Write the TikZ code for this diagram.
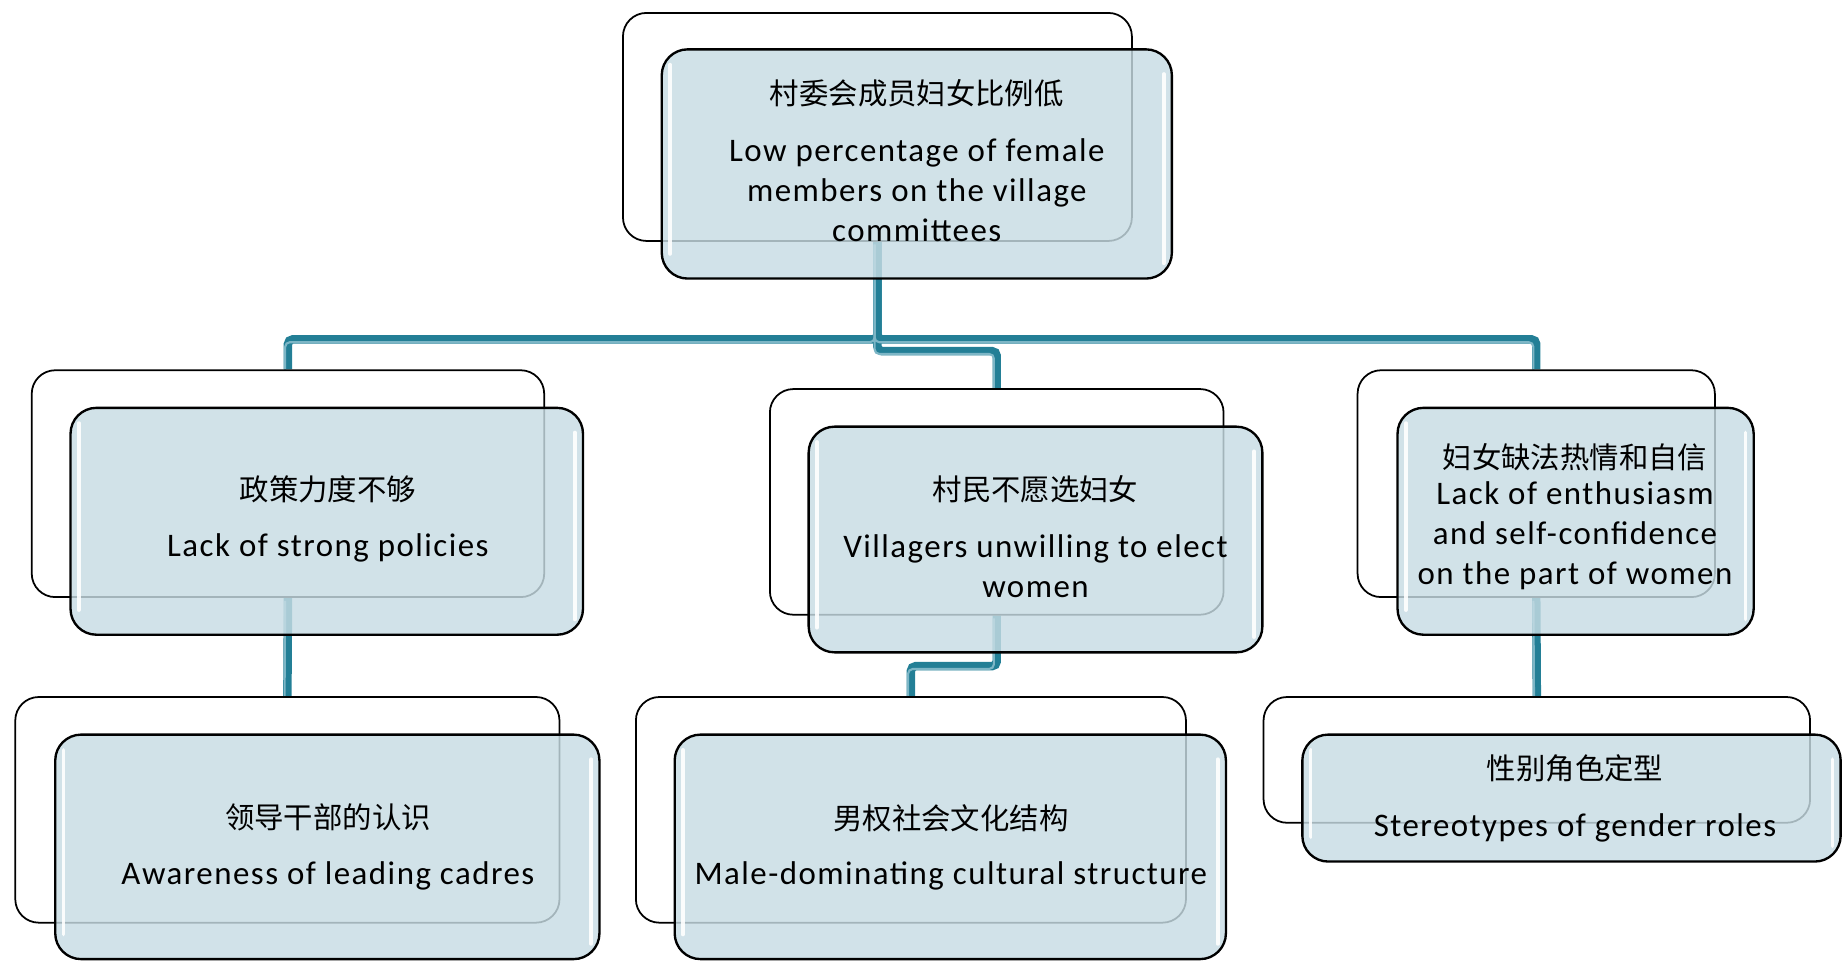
\documentclass[tikz,border=0pt]{standalone}
\usepackage{fontspec}
\setmainfont{Carlito}
\newfontfamily\enfont[LetterSpace=4.5]{Carlito}
\newfontfamily\cjk{Noto Sans CJK SC}
\usetikzlibrary{calc}
\definecolor{teal1}{RGB}{35,127,150}
\definecolor{teallt}{RGB}{125,182,198}
\definecolor{frontfill}{RGB}{199,220,228}
\tikzset{
  backbox/.style={draw=black, line width=0.75pt, fill=white, rounded corners=10pt, inner sep=0pt},
  frontbox/.style={draw=black, line width=1pt, fill=frontfill, fill opacity=0.82, draw opacity=1, rounded corners=11pt, inner sep=0pt},
  gloss/.style={white, line width=1.6pt, line cap=round, opacity=0.9},
  conn/.style={teal1, line width=3.6pt, rounded corners=2pt},
  connhl/.style={teallt, line width=0.9pt, rounded corners=2pt, transform canvas={xshift=-1.2pt,yshift=-1.2pt}},
  cntext/.style={font=\cjk\fontsize{12.5}{15}\selectfont, inner sep=0pt, align=center},
  entext/.style={font=\enfont\fontsize{14}{17}\selectfont, inner sep=0pt, align=center},
}
\newcommand{\mkrect}[6]{\node[#1, minimum width={(#5-#3)*0.5}, minimum height={(#6-#4)*0.5}] (#2) at ({(#3+#5)/2},{(#4+#6)/2}) {};}
\newcommand{\glossy}[1]{%
  \draw[gloss] ($(#1.north west)+(8,14)$) -- ($(#1.south west)+(8,-22)$);
  \draw[gloss] ($(#1.north east)+(-8,22)$) -- ($(#1.south east)+(-8,-14)$);}
\begin{document}
\begin{tikzpicture}[x=0.5pt,y=-0.5pt]
\useasboundingbox (0,0) rectangle (1568,818);
% geometry of back boxes (connector anchors)
\mkrect{backbox,draw=none,fill=none}{topB}{530}{11}{963}{205}
\mkrect{backbox,draw=none,fill=none}{lB}{27}{315}{463}{508}
\mkrect{backbox,draw=none,fill=none}{mB}{655}{331}{1041}{523}
\mkrect{backbox,draw=none,fill=none}{rB}{1155}{315}{1459}{508}
\mkrect{backbox,draw=none,fill=none}{blB}{13}{593}{476}{785}
\mkrect{backbox,draw=none,fill=none}{bmB}{541}{593}{1009}{785}
\mkrect{backbox,draw=none,fill=none}{brB}{1075}{593}{1540}{700}
% connectors
\draw[conn] (topB.south) -- ++(0,83) -| (lB.north);
\draw[conn] (topB.south) -- ++(0,83) -| (rB.north);
\draw[conn] (topB.south) -- ++(0,93) -| (mB.north);
\draw[conn] (lB.south) -- (blB.north);
\draw[conn] (mB.south) -- ++(0,43) -| (bmB.north);
\draw[conn] (rB.south) -- (brB.north);
\draw[connhl] (topB.south) -- ++(0,83) -| (lB.north);
\draw[connhl] (topB.south) -- ++(0,83) -| (rB.north);
\draw[connhl] (topB.south) -- ++(0,93) -| (mB.north);
\draw[connhl] (lB.south) -- (blB.north);
\draw[connhl] (mB.south) -- ++(0,43) -| (bmB.north);
\draw[connhl] (rB.south) -- (brB.north);
% boxes
\mkrect{backbox}{topBk}{530}{11}{963}{205}
\mkrect{frontbox}{topF}{563}{42}{997}{237}
\glossy{topF}
\mkrect{backbox}{lBk}{27}{315}{463}{508}
\mkrect{frontbox}{lF}{60}{347}{496}{540}
\glossy{lF}
\mkrect{backbox}{mBk}{655}{331}{1041}{523}
\mkrect{frontbox}{mF}{688}{363}{1074}{555}
\glossy{mF}
\mkrect{backbox}{rBk}{1155}{315}{1459}{508}
\mkrect{frontbox}{rF}{1189}{347}{1492}{540}
\glossy{rF}
\mkrect{backbox}{blBk}{13}{593}{476}{785}
\mkrect{frontbox}{blF}{47}{625}{510}{816}
\glossy{blF}
\mkrect{backbox}{bmBk}{541}{593}{1009}{785}
\mkrect{frontbox}{bmF}{574}{625}{1043}{816}
\glossy{bmF}
\mkrect{backbox}{brBk}{1075}{593}{1540}{700}
\mkrect{frontbox}{brF}{1108}{625}{1566}{733}
\glossy{brF}
% texts
\node[cntext] (t1c) at (780,79) {村委会成员妇女比例低};
\node[entext] (t1e) at (780,162) {Low percentage of female\\members on the village\\committees};
\node[cntext] (t2c) at (279,416) {政策力度不够};
\node[entext] (t2e) at (279,466) {Lack of strong policies};
\node[cntext] (t3c) at (881,416) {村民不愿选妇女};
\node[entext] (t3e) at (881,481.5) {Villagers unwilling to elect\\women};
\node[cntext] (t4c) at (1340,389) {妇女缺法热情和自信};
\node[entext] (t4e) at (1340,455.5) {Lack of enthusiasm\\and self-confidence\\on the part of women};
\node[cntext] (t5c) at (279,695) {领导干部的认识};
\node[entext] (t5e) at (279,745) {Awareness of leading cadres};
\node[cntext] (t6c) at (809,696) {男权社会文化结构};
\node[entext] (t6e) at (809,745) {Male-dominating cultural structure};
\node[cntext] (t7c) at (1340,654) {性别角色定型};
\node[entext] (t7e) at (1340,704) {Stereotypes of gender roles};
\end{tikzpicture}
\end{document}
